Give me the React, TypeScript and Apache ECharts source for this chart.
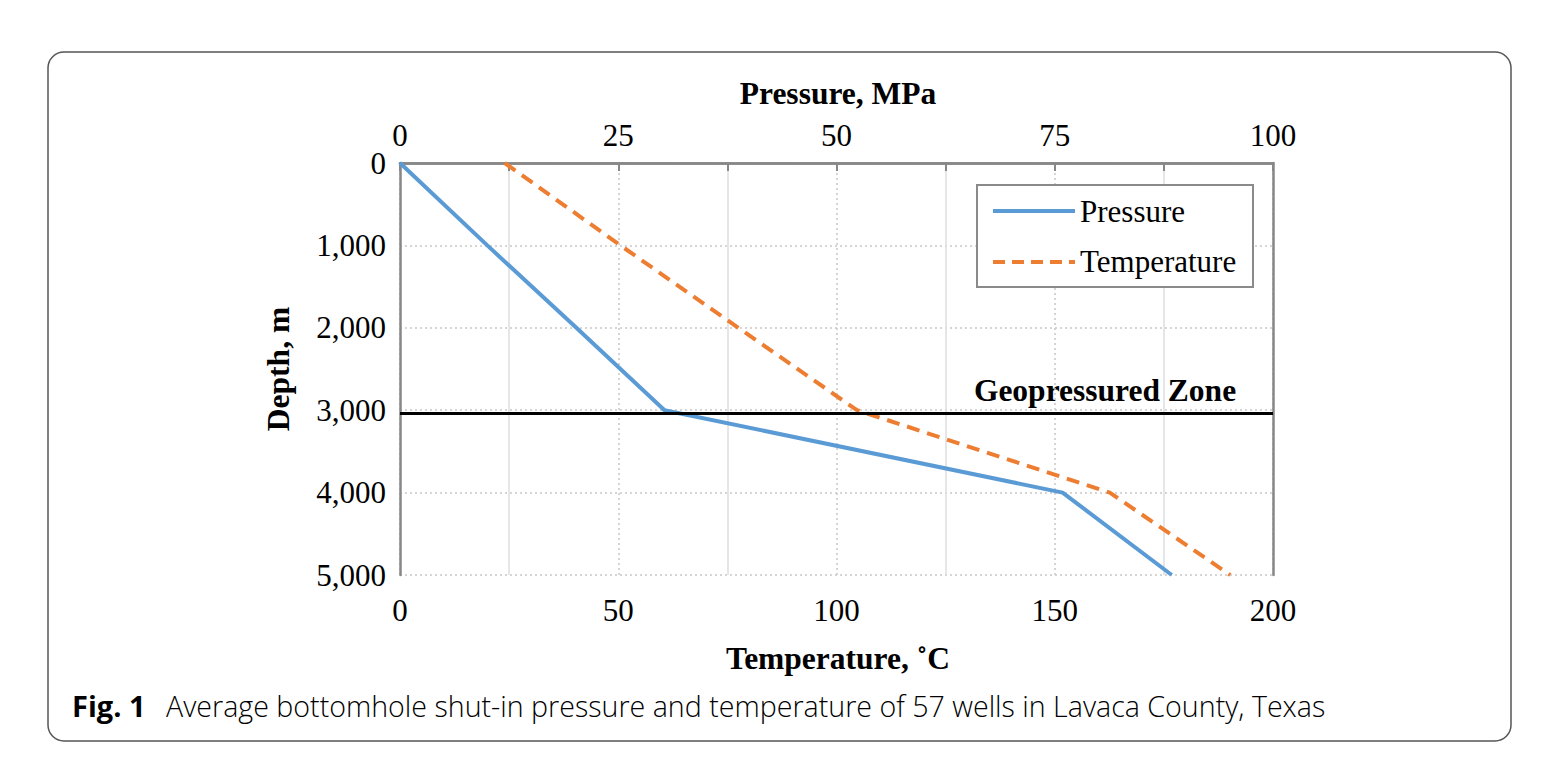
import React, { useEffect, useRef } from "react";
import * as echarts from "echarts";

const depths = [0, 1000, 2000, 3000, 4000, 5000];
const pressureMPa = [0, 10.0, 20.2, 30.3, 75.9, 88.4];
const temperatureC = [24, 50.5, 77.5, 104.7, 162.6, 190.2];
const pressureTicks = [0, 25, 50, 75, 100];
const temperatureTicks = [0, 50, 100, 150, 200];
const zoneDepth = 3040;
const legendNames = ["Pressure", "Temperature"];

const SERIF = "'Liberation Serif', 'Times New Roman', serif";
const SANS = "'Open Sans', 'Noto Sans', sans-serif";
const BLUE = "#5b9bd5";
const ORANGE = "#ed7d31";
const DASH = [13, 8];

export default function App() {
  const ref = useRef<HTMLDivElement>(null);
  useEffect(() => {
    if (!ref.current) return;
    const chart = echarts.init(ref.current, null, { renderer: "svg" });
    const axisGray = "#878787";
    chart.setOption({
      animation: false,
      backgroundColor: "#ffffff",
      textStyle: { fontFamily: SERIF },
      grid: { left: 400, right: 284, top: 163, bottom: 193, show: false },
      xAxis: [
        {
          type: "value",
          position: "bottom",
          min: 0,
          max: 200,
          interval: 25,
          axisLine: { show: true, lineStyle: { color: axisGray, width: 2.5 } },
          axisTick: { show: true, length: 8, lineStyle: { color: axisGray, width: 2 } },
          axisLabel: {
            fontFamily: SERIF,
            fontSize: 31,
            color: "#000",
            margin: 20,
            formatter: (v: number) => (temperatureTicks.includes(v) ? String(v) : ""),
          },
          splitLine: {
            show: true,
            lineStyle: { color: ["rgba(0,0,0,0)", "#dedede"], width: 1.5, type: "solid" },
          },
        },
        {
          type: "value",
          position: "top",
          min: 0,
          max: 100,
          interval: 25,
          axisLine: { show: true, lineStyle: { color: axisGray, width: 2.5 } },
          axisTick: { show: false },
          axisLabel: {
            fontFamily: SERIF,
            fontSize: 31,
            color: "#000",
            margin: 12,
            formatter: (v: number) => (pressureTicks.includes(v) ? String(v) : ""),
          },
          splitLine: { show: true, lineStyle: { color: "#c8c8c8", width: 1.5, type: [2, 3] } },
        },
      ],
      yAxis: [
        {
          type: "value",
          inverse: true,
          min: 0,
          max: 5000,
          interval: 1000,
          axisLine: { show: true, onZero: false, lineStyle: { color: axisGray, width: 2.5 } },
          axisTick: { show: false },
          axisLabel: {
            fontFamily: SERIF,
            fontSize: 31,
            color: "#000",
            margin: 14,
            formatter: (v: number) => v.toLocaleString("en-US"),
          },
          splitLine: { show: true, lineStyle: { color: "#c8c8c8", width: 1.5, type: [2, 3] } },
        },
        {
          type: "value",
          position: "right",
          inverse: true,
          min: 0,
          max: 5000,
          interval: 1000,
          axisLine: { show: true, onZero: false, lineStyle: { color: axisGray, width: 2.5 } },
          axisTick: { show: false },
          axisLabel: { show: false },
          splitLine: { show: false },
        },
      ],
      series: [
        {
          name: legendNames[0],
          type: "line",
          xAxisIndex: 1,
          yAxisIndex: 0,
          symbol: "none",
          lineStyle: { color: BLUE, width: 4 },
          itemStyle: { color: BLUE },
          data: depths.map((d, i) => [pressureMPa[i], d]),
          z: 3,
          markLine: {
            silent: true,
            symbol: "none",
            label: { show: false },
            lineStyle: { color: "#000", width: 3, type: "solid" },
            data: [{ yAxis: zoneDepth }],
            z: 4,
          },
        },
        {
          name: legendNames[1],
          type: "line",
          xAxisIndex: 0,
          yAxisIndex: 0,
          symbol: "none",
          lineStyle: { color: ORANGE, width: 4, type: DASH },
          itemStyle: { color: ORANGE },
          data: depths.map((d, i) => [temperatureC[i], d]),
          z: 3,
        },
      ],
      graphic: [
        {
          type: "rect",
          shape: { x: 48, y: 52, width: 1463, height: 689, r: 16 },
          style: { fill: "none", stroke: "#555", lineWidth: 1.5 },
          silent: true,
        },
        {
          type: "rect",
          shape: { x: 977, y: 185, width: 276, height: 102 },
          style: { fill: "#fff", stroke: "#8a8a8a", lineWidth: 2 },
          z: 10,
        },
        {
          type: "line",
          shape: { x1: 993, y1: 211, x2: 1075, y2: 211 },
          style: { stroke: BLUE, lineWidth: 4 },
          z: 11,
        },
        {
          type: "line",
          shape: { x1: 993, y1: 262, x2: 1075, y2: 262 },
          style: { stroke: ORANGE, lineWidth: 4, lineDash: [12, 7] },
          z: 11,
        },
        {
          type: "text",
          x: 1080,
          y: 211,
          z: 11,
          style: {
            text: legendNames[0],
            font: `31px ${SERIF}`,
            fill: "#000",
            align: "left",
            verticalAlign: "middle",
          },
        },
        {
          type: "text",
          x: 1080,
          y: 261,
          z: 11,
          style: {
            text: legendNames[1],
            font: `31px ${SERIF}`,
            fill: "#000",
            align: "left",
            verticalAlign: "middle",
          },
        },
        {
          type: "text",
          x: 838,
          y: 93,
          style: {
            text: "Pressure, MPa",
            font: `bold 31.5px ${SERIF}`,
            fill: "#000",
            align: "center",
            verticalAlign: "middle",
          },
        },
        {
          type: "text",
          x: 838,
          y: 658,
          style: {
            text: "Temperature, ˚C",
            font: `bold 31.5px ${SERIF}`,
            fill: "#000",
            align: "center",
            verticalAlign: "middle",
          },
        },
        {
          type: "text",
          x: 278,
          y: 369,
          rotation: Math.PI / 2,
          style: {
            text: "Depth, m",
            font: `bold 31.5px ${SERIF}`,
            fill: "#000",
            align: "center",
            verticalAlign: "middle",
          },
        },
        {
          type: "text",
          x: 1105,
          y: 390,
          style: {
            text: "Geopressured Zone",
            font: `bold 31.5px ${SERIF}`,
            fill: "#000",
            align: "center",
            verticalAlign: "middle",
          },
        },
        {
          type: "text",
          x: 72,
          y: 705,
          style: {
            text: "Fig. 1",
            font: `bold 29px ${SANS}`,
            fill: "#000",
            align: "left",
            verticalAlign: "middle",
          },
        },
        {
          type: "text",
          x: 166,
          y: 705,
          style: {
            text: "Average bottomhole shut-in pressure and temperature of 57 wells in Lavaca County, Texas",
            font: `300 28.6px ${SANS}`,
            fill: "#000",
            align: "left",
            verticalAlign: "middle",
          },
        },
      ],
    });
    return () => chart.dispose();
  }, []);
  return (
    <div
      ref={ref}
      style={{ position: "fixed", left: 0, top: 0, width: 1557, height: 768, background: "#fff" }}
    />
  );
}
